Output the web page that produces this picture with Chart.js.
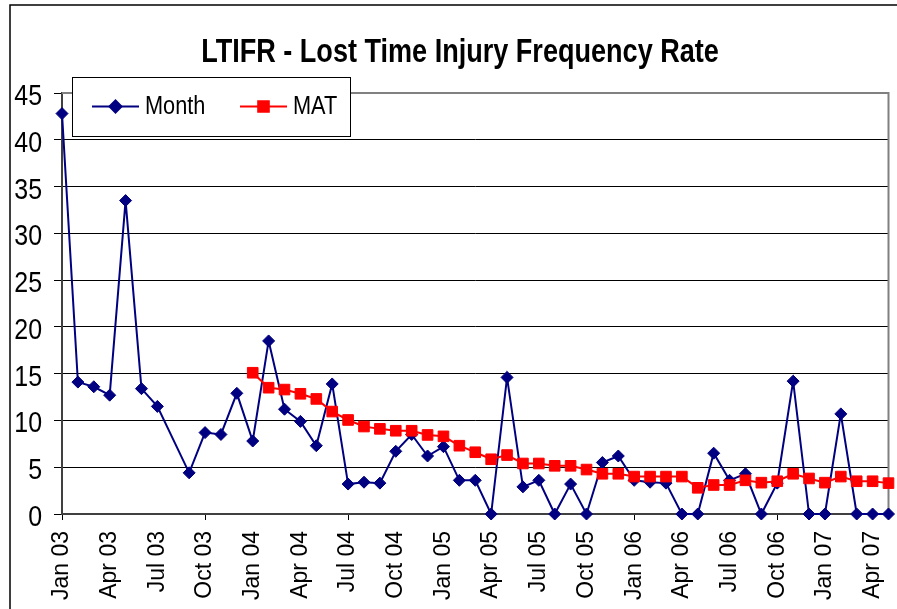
<!DOCTYPE html>
<html>
<head>
<meta charset="utf-8">
<script src="https://cdn.jsdelivr.net/npm/chart.js@4.4.1/dist/chart.umd.min.js"></script>
<style>
    html, body { margin: 0; padding: 0; background: #fff; overflow: hidden; }
</style>
</head>
<body>
<canvas id="chartLtifr" width="897" height="609"></canvas>
<script>
// Meses (eje X)
const meses = [
    'Jan 03', 'Feb 03', 'Mar 03', 'Apr 03', 'May 03', 'Jun 03', 'Jul 03', 'Aug 03', 'Sep 03', 'Oct 03', 'Nov 03', 'Dec 03',
    'Jan 04', 'Feb 04', 'Mar 04', 'Apr 04', 'May 04', 'Jun 04', 'Jul 04', 'Aug 04', 'Sep 04', 'Oct 04', 'Nov 04', 'Dec 04',
    'Jan 05', 'Feb 05', 'Mar 05', 'Apr 05', 'May 05', 'Jun 05', 'Jul 05', 'Aug 05', 'Sep 05', 'Oct 05', 'Nov 05', 'Dec 05',
    'Jan 06', 'Feb 06', 'Mar 06', 'Apr 06', 'May 06', 'Jun 06', 'Jul 06', 'Aug 06', 'Sep 06', 'Oct 06', 'Nov 06', 'Dec 06',
    'Jan 07', 'Feb 07', 'Mar 07', 'Apr 07', 'May 07'
];

// LTIFR mensual (Aug 03 sin dato)
const valoresMes = [
    42.8, 14.1, 13.6, 12.7, 33.5, 13.4, 11.5, null, 4.4, 8.7, 8.5, 12.9,
    7.8, 18.5, 11.2, 9.9, 7.3, 13.9, 3.2, 3.4, 3.3, 6.7, 8.5, 6.2,
    7.2, 3.6, 3.6, 0, 14.6, 2.9, 3.6, 0, 3.2, 0, 5.5, 6.2,
    3.6, 3.4, 3.3, 0, 0, 6.5, 3.6, 4.3, 0, 3.3, 14.2, 0,
    0, 10.7, 0, 0, 0
];

// MAT (media anual móvil), empieza en Jan 04
const valoresMat = [
    null, null, null, null, null, null, null, null, null, null, null, null,
    15.1, 13.5, 13.3, 12.85, 12.3, 10.95, 10.05, 9.35, 9.1, 8.9, 8.9, 8.45,
    8.3, 7.3, 6.6, 5.85, 6.3, 5.4, 5.4, 5.15, 5.15, 4.75, 4.3, 4.3,
    4.0, 4.0, 4.0, 4.0, 2.8, 3.1, 3.1, 3.6, 3.35, 3.5, 4.3, 3.8,
    3.35, 4.0, 3.5, 3.5, 3.3
];

const ticksY = [0, 5, 10, 15, 20, 25, 30, 35, 40, 45];

const TITULO = 'LTIFR - Lost Time Injury Frequency Rate';
const NAVY = '#000080';
const ROJO = '#FF0000';
const ARIAL = "'Liberation Sans', Arial, sans-serif";

// Texto estrecho (simula Arial Narrow)
function textoEstrecho(ctx, texto, x, y, escala, align) {
    ctx.save();
    ctx.translate(x, y);
    ctx.scale(escala, 1);
    ctx.textAlign = align;
    ctx.fillText(texto, 0, 0);
    ctx.restore();
}

// Fondo, marco exterior y título
const marcoPlugin = {
    id: 'marco',
    beforeDraw(chart) {
        const ctx = chart.ctx;
        ctx.save();
        ctx.fillStyle = '#fff';
        ctx.fillRect(0, 0, chart.width, chart.height);
        ctx.strokeStyle = '#000';
        ctx.lineWidth = 1.5;
        ctx.strokeRect(10, 5, chart.width + 50, chart.height + 50);
        ctx.fillStyle = '#000';
        ctx.font = 'bold 33px ' + ARIAL;
        ctx.textBaseline = 'alphabetic';
        textoEstrecho(ctx, TITULO, 460, 62, 0.82, 'center');
        ctx.restore();
    },
    beforeDatasetsDraw(chart) {
        // borde gris del área de trazado (arriba y derecha)
        const a = chart.chartArea;
        const ctx = chart.ctx;
        ctx.save();
        ctx.strokeStyle = '#808080';
        ctx.lineWidth = 2;
        ctx.beginPath();
        ctx.moveTo(a.left, a.top);
        ctx.lineTo(a.right, a.top);
        ctx.lineTo(a.right, a.bottom);
        ctx.stroke();
        ctx.restore();
    },
    afterDraw(chart) {
        // etiquetas del eje Y
        const ctx = chart.ctx;
        const escalaY = chart.scales.y;
        ctx.save();
        ctx.fillStyle = '#000';
        ctx.font = '29px ' + ARIAL;
        ctx.textBaseline = 'alphabetic';
        escalaY.ticks.forEach(t => {
            const py = escalaY.getPixelForValue(t.value);
            textoEstrecho(ctx, String(t.value), escalaY.right - 20, py + 12, 0.86, 'right');
        });
        ctx.restore();
    }
};

// Leyenda con recuadro dentro del área de trazado
const leyendaPlugin = {
    id: 'leyendaCaja',
    afterDraw(chart) {
        const ctx = chart.ctx;
        const bx = 72, by = 77, bw = 278, bh = 59;
        const cy = by + bh / 2;
        ctx.save();
        ctx.fillStyle = '#fff';
        ctx.fillRect(bx, by, bw, bh);
        ctx.strokeStyle = '#000';
        ctx.lineWidth = 1;
        ctx.strokeRect(bx + 0.5, by + 0.5, bw, bh);

        const items = [
            { x: 92, texto: 'Month', color: NAVY, estilo: 'rectRot', radio: 6 },
            { x: 240, texto: 'MAT', color: ROJO, estilo: 'rect', radio: 7.5 }
        ];
        ctx.font = '26.5px ' + ARIAL;
        ctx.textBaseline = 'alphabetic';
        items.forEach(it => {
            ctx.strokeStyle = it.color;
            ctx.lineWidth = 2;
            ctx.beginPath();
            ctx.moveTo(it.x, cy);
            ctx.lineTo(it.x + 47, cy);
            ctx.stroke();
            ctx.fillStyle = it.color;
            Chart.helpers.drawPoint(ctx, { pointStyle: it.estilo, radius: it.radio, borderWidth: 1 }, it.x + 23.5, cy);
            ctx.fill();
            ctx.fillStyle = '#000';
            textoEstrecho(ctx, it.texto, it.x + 53, 113.5, 0.82, 'left');
        });
        ctx.restore();
    }
};

const ctxChart = document.getElementById('chartLtifr').getContext('2d');

new Chart(ctxChart, {
    type: 'line',
    data: {
        labels: meses,
        datasets: [
            {
                label: 'Month',
                data: valoresMes,
                borderColor: NAVY,
                backgroundColor: NAVY,
                borderWidth: 2,
                pointStyle: 'rectRot',
                pointRadius: 6,
                pointBorderWidth: 1,
                spanGaps: true,
                tension: 0,
                clip: false,
                order: 2
            },
            {
                label: 'MAT',
                data: valoresMat,
                borderColor: ROJO,
                backgroundColor: ROJO,
                borderWidth: 2,
                pointStyle: 'rect',
                pointRadius: 7.5,
                pointBorderWidth: 1,
                tension: 0,
                clip: false,
                order: 1
            }
        ]
    },
    options: {
        responsive: false,
        animation: false,
        layout: {
            padding: { left: 23, right: 4, top: 93, bottom: 0 }
        },
        plugins: {
            legend: { display: false },
            tooltip: { enabled: false },
            title: { display: false }
        },
        scales: {
            x: {
                offset: false,
                ticks: {
                    autoSkip: false,
                    minRotation: 90,
                    maxRotation: 90,
                    padding: 11,
                    color: '#000',
                    font: { family: ARIAL, size: 23 },
                    callback: function (v, i) {
                        return i % 3 === 0 ? this.getLabelForValue(v) : null;
                    }
                },
                grid: {
                    drawOnChartArea: false,
                    tickLength: 6,
                    color: c => (c.index % 3 === 0 ? '#000' : 'rgba(0,0,0,0)')
                },
                border: { color: '#404040', width: 2 },
                afterFit: s => {
                    s.height = 95;
                    s.paddingLeft = 0;
                    s.paddingRight = 0;
                }
            },
            y: {
                min: 0,
                max: 45,
                afterBuildTicks: s => { s.ticks = ticksY.map(v => ({ value: v })); },
                ticks: { display: false },
                grid: {
                    color: c => (c.tick && c.tick.value === 45 ? '#808080' : '#000'),
                    tickColor: '#000',
                    tickLength: 8,
                    lineWidth: 1
                },
                border: { color: '#404040', width: 2 },
                afterFit: s => { s.width = 39; }
            }
        }
    },
    plugins: [marcoPlugin, leyendaPlugin]
});
</script>
</body>
</html>
